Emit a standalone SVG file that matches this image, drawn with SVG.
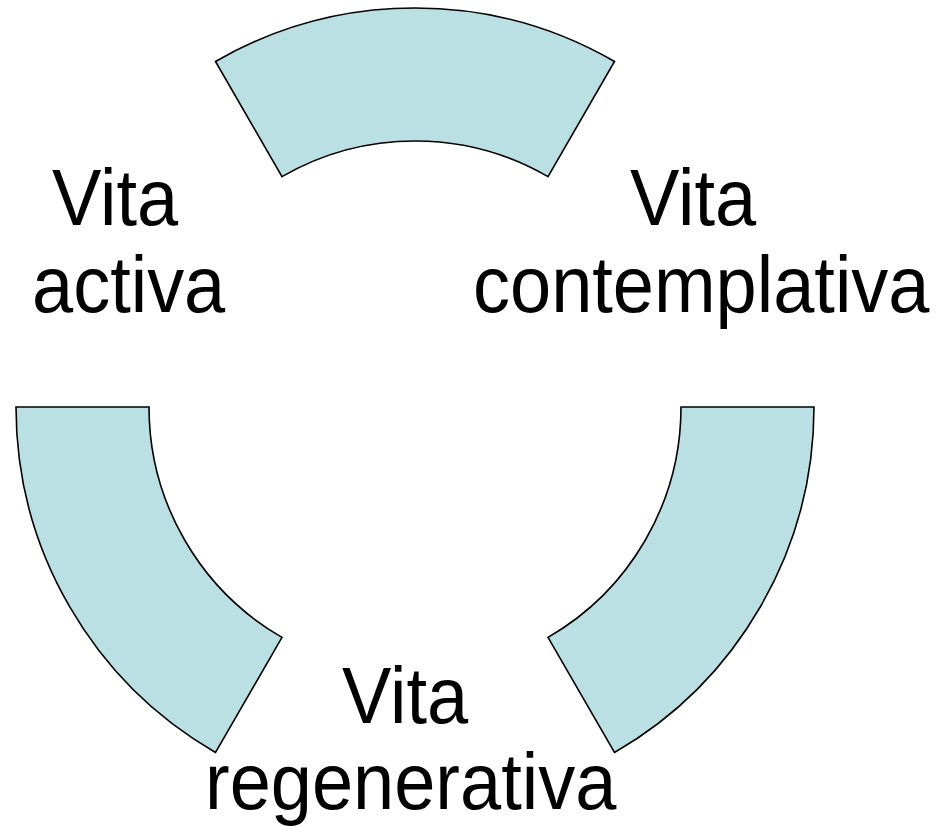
<svg xmlns="http://www.w3.org/2000/svg" width="937" height="827" viewBox="0 0 937 827">
<style>
.seg{fill:#BAE0E3;stroke:#000;stroke-width:1.6;stroke-linejoin:miter}
.lbl{font-family:"Liberation Sans",Arial,sans-serif;font-size:74px;fill:#000}
</style>
<rect width="937" height="827" fill="#fff"/>
<g id="arc-top"><path class="seg" d="M215.5,61.5 A399,399 0 0 1 614.5,61.5 L548,176.6 A266,266 0 0 0 282,176.6 Z"/></g>
<g id="arc-left"><path class="seg" d="M16,407 L149,407 A266,266 0 0 0 282,637.4 L215.5,752.5 A399,399 0 0 1 16,407 Z"/></g>
<g id="arc-right"><path class="seg" d="M814,407 L681,407 A266,266 0 0 1 548,637.4 L614.5,752.5 A399,399 0 0 0 814,407 Z"/></g>
<g id="label-activa">
<text class="lbl" transform="translate(52,225) scale(1,1.08)">Vita</text>
<text class="lbl" transform="translate(32,312) scale(1,1.08)">activa</text>
</g>
<g id="label-contemplativa">
<text class="lbl" transform="translate(630,225) scale(1,1.08)">Vita</text>
<text class="lbl" transform="translate(473,312) scale(1,1.08)">contemplativa</text>
</g>
<g id="label-regenerativa">
<text class="lbl" transform="translate(342,723) scale(1,1.08)">Vita</text>
<text class="lbl" transform="translate(205,809) scale(1,1.08)">regenerativa</text>
</g>
</svg>
